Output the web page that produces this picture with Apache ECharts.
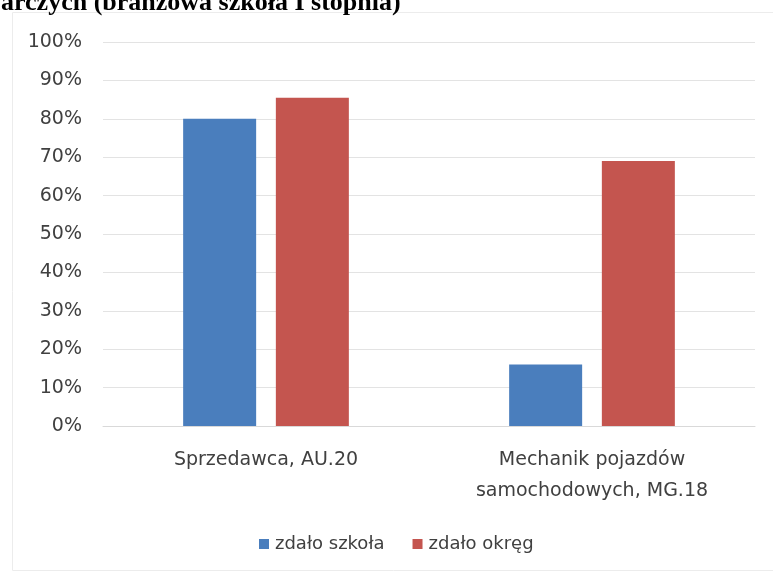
<!DOCTYPE html>
<html>
<head>
<meta charset="utf-8">
<script src="https://cdn.jsdelivr.net/npm/echarts@6/dist/echarts.min.js"></script>
<style>
  html, body { margin: 0; padding: 0; background: #fff; }
  #chart { width: 773px; height: 573px; }
</style>
</head>
<body>
<div id="chart"></div>
<script>
const categories = ['Sprzedawca, AU.20', 'Mechanik pojazdów\nsamochodowych, MG.18']
const seriesNames = ['zdało szkoła', 'zdało okręg']
const szkola = [80, 16]
const okreg = [85.5, 69]
const titleText = 'arczych (branżowa szkoła I stopnia)'

const chart = echarts.init(document.getElementById('chart'))
// wide sans so the label widths line up with the scanned page
const labelFont = '"DejaVu Sans", "Open Sans", sans-serif'

const option = {
  animation: false,
  graphic: [
    {
      type: 'rect',
      shape: { x: 12.5, y: 12.5, width: 800, height: 558 },
      style: { fill: 'none', stroke: '#ececec', lineWidth: 1 },
      z: -1,
    },
    {
      type: 'text',
      left: 1,
      top: -10,
      style: {
        text: titleText,
        font: 'bold 26px "Liberation Serif", "DejaVu Serif", serif',
        fill: '#000',
      },
    },
  ],
  legend: {
    data: seriesNames,
    top: 530,
    left: 254,
    itemWidth: 10,
    itemHeight: 10,
    itemGap: 28,
    icon: 'rect',
    textStyle: { fontFamily: labelFont, fontSize: 18, color: '#404040', padding: [0, 0, 0, 1] },
  },
  grid: {
    left: 103,
    right: 18,
    top: 42,
    bottom: 147,
  },
  xAxis: {
    type: 'category',
    data: categories,
    axisTick: { show: false },
    axisLine: { lineStyle: { color: '#d9d9d9' } },
    axisLabel: {
      interval: 0,
      margin: 19,
      fontFamily: labelFont,
      fontSize: 19,
      lineHeight: 31,
      color: '#404040',
    },
  },
  yAxis: {
    type: 'value',
    min: 0,
    max: 100,
    interval: 10,
    axisLine: { show: false },
    axisTick: { show: false },
    splitLine: { lineStyle: { color: '#e3e3e3' } },
    axisLabel: {
      formatter: '{value}%',
      margin: 21,
      fontFamily: labelFont,
      fontSize: 19,
      color: '#404040',
    },
  },
  series: [
    {
      name: seriesNames[0],
      type: 'bar',
      data: szkola,
      barWidth: 73,
      barGap: '27%',
      itemStyle: { color: '#4a7ebd' },
    },
    {
      name: seriesNames[1],
      type: 'bar',
      data: okreg,
      barWidth: 73,
      itemStyle: { color: '#c4554f' },
    },
  ],
}
chart.setOption(option)
</script>
</body>
</html>
